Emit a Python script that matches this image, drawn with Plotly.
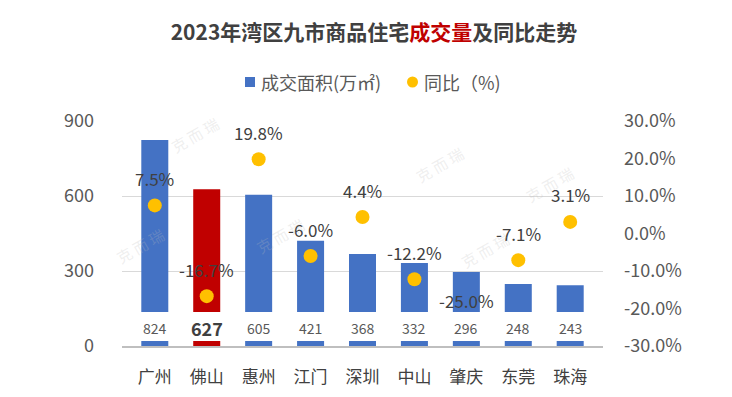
import plotly.graph_objects as go

cities = ["广州", "佛山", "惠州", "江门", "深圳", "中山", "肇庆", "东莞", "珠海"]
area = [824, 627, 605, 421, 368, 332, 296, 248, 243]
yoy = [7.5, -16.7, 19.8, -6.0, 4.4, -12.2, -25.0, -7.1, 3.1]
highlight = "佛山"
left_ticks = [0, 300, 600, 900]
right_ticks = [-30, -20, -10, 0, 10, 20, 30]
legend_bar = "成交面积(万㎡)"
legend_yoy = "同比（%)"

BLUE = "#4472C4"
RED = "#C00000"
YELLOW = "#FFC000"
FONT = "Noto Sans CJK SC, Microsoft YaHei, sans-serif"
TXT = "#595959"
DARK = "#404040"
W, H = 732, 397
ML, MR, MT, MB = 122, 129, 121, 51
PW, PH = W - ML - MR, H - MT - MB


def px2x(px):
    return (px - ML) / PW


def py2y(py):
    return (H - MB - py) / PH


bar_colors = [RED if c == highlight else BLUE for c in cities]

fig = go.Figure()
fig.add_trace(go.Bar(
    x=cities, y=area, name=legend_bar,
    marker=dict(color=bar_colors, line=dict(width=0)),
    yaxis="y", showlegend=False,
))
fig.add_trace(go.Scatter(
    x=cities, y=yoy, name=legend_yoy, mode="markers",
    marker=dict(color=YELLOW, size=14), yaxis="y2", showlegend=False,
))

# white band behind bar value labels
fig.add_shape(type="rect", xref="paper", yref="y", x0=0, x1=1, y0=20, y1=136,
              fillcolor="white", line=dict(width=0), layer="above")

annotations = []
for c, v in zip(cities, area):
    bold = c == highlight
    annotations.append(dict(
        x=c, y=72, xref="x", yref="y", text=f"<b>{v}</b>" if bold else str(v),
        showarrow=False, font=dict(size=18 if bold else 14, color=DARK if bold else TXT, family=FONT),
    ))
for c, v in zip(cities, yoy):
    annotations.append(dict(
        x=c, y=v, xref="x", yref="y2", text=f"{v:.1f}%", showarrow=False, yshift=27,
        font=dict(size=17, color=DARK, family=FONT),
    ))
# faint watermarks
for (wx, wy) in [(165, 110), (110, 245), (250, 235), (440, 140), (580, 160), (515, 275)]:
    annotations.append(dict(
        x=px2x(wx), y=py2y(wy), xref="paper", yref="paper", text="克 而 瑞",
        showarrow=False, textangle=-30, font=dict(size=15, color="rgba(190,190,190,0.25)", family=FONT),
    ))

# legend (symbol close to text, as in reference)
LY = 82
fig.add_shape(type="rect", xref="paper", yref="paper",
              x0=px2x(245), x1=px2x(255), y0=py2y(LY + 5), y1=py2y(LY - 5),
              fillcolor=BLUE, line=dict(width=0), layer="above")
fig.add_shape(type="circle", xref="paper", yref="paper",
              x0=px2x(407), x1=px2x(418), y0=py2y(LY + 5.5), y1=py2y(LY - 5.5),
              fillcolor=YELLOW, line=dict(width=0), layer="above")
annotations.append(dict(x=px2x(259), y=py2y(LY), xref="paper", yref="paper", text=legend_bar,
                        xanchor="left", yanchor="middle", showarrow=False,
                        font=dict(size=18, color=TXT, family=FONT)))
annotations.append(dict(x=px2x(422), y=py2y(LY), xref="paper", yref="paper", text=legend_yoy,
                        xanchor="left", yanchor="middle", showarrow=False,
                        font=dict(size=18, color=TXT, family=FONT)))

fig.update_layout(
    width=W, height=H,
    margin=dict(l=ML, r=MR, t=MT, b=MB),
    paper_bgcolor="white", plot_bgcolor="white",
    font=dict(family=FONT, color=TXT),
    showlegend=False,
    title=dict(
        text="<b>2023年湾区九市商品住宅<span style='color:#C00000'>成交量</span>及同比走势</b>",
        x=374 / W, xanchor="center", y=1 - 33 / H, yanchor="middle",
        font=dict(size=21, color=DARK, family=FONT),
    ),
    bargap=0.48,
    xaxis=dict(showgrid=False, showline=True, linecolor="#bfbfbf", linewidth=1.5,
               tickfont=dict(size=17, color=DARK), ticks="", ticklabelstandoff=15,
               automargin=False),
    yaxis=dict(range=[0, 900], tickvals=left_ticks, showgrid=True, gridcolor="#d9d9d9",
               zeroline=False, tickfont=dict(size=18, color=TXT), ticklabelstandoff=27,
               automargin=False),
    yaxis2=dict(range=[-30, 30], tickvals=right_ticks, ticktext=[f"{t:.1f}%" for t in right_ticks],
                overlaying="y", side="right", showgrid=False, zeroline=False,
                tickfont=dict(size=18, color=TXT), ticklabelstandoff=20, automargin=False),
    annotations=annotations,
)

fig.write_html("out.html", config={"displayModeBar": False},
               post_script="document.body.style.margin='0px';")
